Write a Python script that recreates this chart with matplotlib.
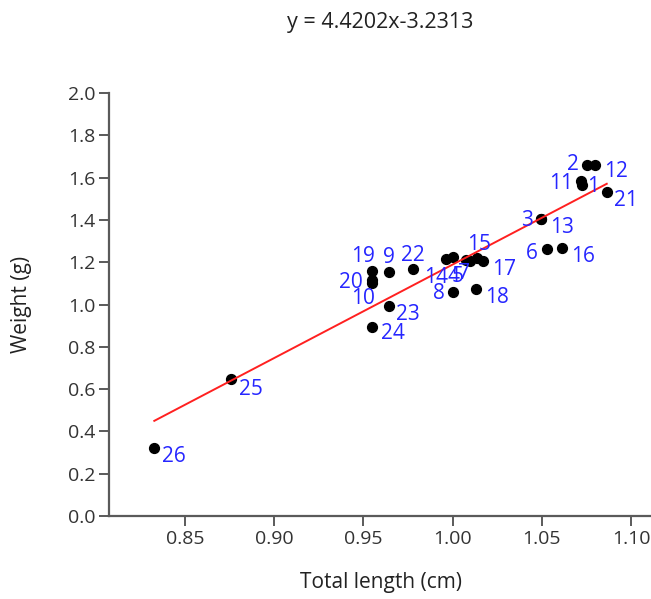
import numpy as np
import matplotlib.pyplot as plt

plt.rcParams['font.family'] = ['Open Sans', 'DejaVu Sans']

# specimen measurements
ids = ['1', '2', '3', '4', '5', '6', '7', '8', '9', '10', '11', '12', '13',
       '14', '15', '16', '17', '18', '19', '20', '21', '22', '23', '24', '25', '26']
length = [1.0724, 1.0752, 1.0494, 1.0004, 1.0076, 1.0531, 1.0095, 1.0004, 0.9643, 0.9547,
          1.0718, 1.0798, 1.0494, 0.9963, 1.0135, 1.0612, 1.0172, 1.0131, 0.9547, 0.9547,
          1.0864, 0.9780, 0.9643, 0.9547, 0.8758, 0.8328]
weight = [1.565, 1.660, 1.404, 1.223, 1.212, 1.262, 1.206, 1.060, 1.155, 1.100,
          1.585, 1.660, 1.404, 1.215, 1.218, 1.266, 1.207, 1.073, 1.160, 1.116,
          1.531, 1.168, 0.994, 0.895, 0.646, 0.320]

slope = 4.4202
intercept = -3.2313

# label offsets in points (dx, dy) so the numbers don't pile up
offsets = {
    '1': (8, -1), '2': (-10, 0), '3': (-10, -1), '4': (0, -14), '5': (-6, -12),
    '6': (-11, -3), '7': (-4, -9), '8': (-10, -1), '9': (0, 10), '10': (-6, -11),
    '11': (-14, -2), '12': (15, -5), '13': (15, -6), '14': (-7, -13), '15': (2, 10),
    '16': (15, -6), '17': (15, -6), '18': (15, -6), '19': (-6, 10), '20': (-15, -2),
    '21': (14, -6), '22': (0, 10), '23': (14, -6), '24': (15, -5), '25': (14, -7),
    '26': (14, -6),
}

fig = plt.figure(figsize=(6.51, 5.99), dpi=100)
ax = fig.add_axes([0.1674, 0.1386, 0.8326, 0.7061])

ax.scatter(length, weight, s=50, color='black', zorder=3)

xs = np.array([min(length), max(length)])
ax.plot(xs, slope * xs + intercept, color='#ff2020', lw=1.4, zorder=4)

for name, x, y in zip(ids, length, weight):
    dx, dy = offsets[name]
    ax.annotate(name, (x, y), xytext=(dx, dy), textcoords='offset points',
                ha='center', va='center', color='#2626ff', fontsize=15, zorder=5)

ax.set_xlim(0.8074, 1.1112)
ax.set_ylim(0, 2.0)
ax.set_xticks([0.85, 0.90, 0.95, 1.00, 1.05, 1.10])
ax.set_xticklabels(['0.85', '0.90', '0.95', '1.00', '1.05', '1.10'])
ax.set_yticks(np.arange(0, 2.01, 0.2))
ax.set_yticklabels([f'{v:.1f}' for v in np.arange(0, 2.01, 0.2)])

for side in ['top', 'right']:
    ax.spines[side].set_visible(False)
for side in ['left', 'bottom']:
    ax.spines[side].set_color('#5a5a5a')
    ax.spines[side].set_linewidth(1.6)
ax.tick_params(colors='#5a5a5a', width=1.4, length=7, pad=3,
               labelsize=14, labelcolor='#333333')

ax.set_xlabel('Total length (cm)', fontsize=15, color='#222222', va='center')
ax.xaxis.set_label_coords(0.502, -0.158)
ax.set_ylabel('Weight (g)', fontsize=15, color='#222222', va='center', ha='center')
ax.yaxis.set_label_coords(-0.1605, 0.5)

fig.text(0.584, 0.963, f'y = {slope}x{intercept}', ha='center', va='center',
         fontsize=15.5, color='#222222')

fig.savefig('out.png', dpi=100)
